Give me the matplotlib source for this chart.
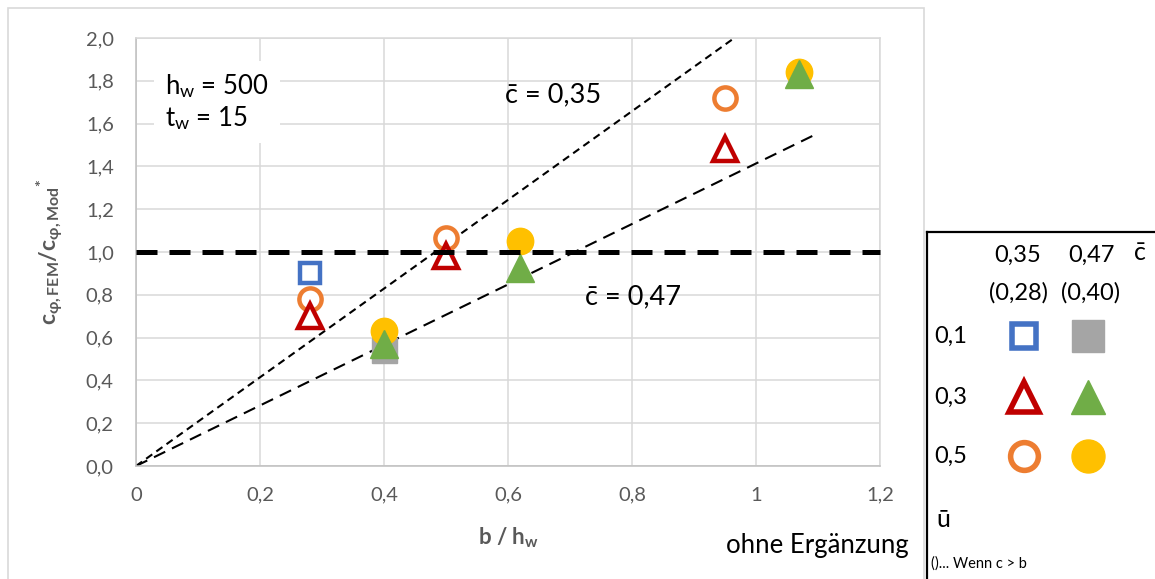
import matplotlib
matplotlib.use('Agg')
import matplotlib.pyplot as plt
from matplotlib.patches import Rectangle

plt.rcParams['font.family'] = ['Lato', 'DejaVu Sans']
plt.rcParams['mathtext.fontset'] = 'custom'
plt.rcParams['mathtext.rm'] = 'Lato'
plt.rcParams['mathtext.bf'] = 'Lato:bold'
plt.rcParams['mathtext.it'] = 'Lato:italic'

W, H = 1155, 579

# b/h_w against c_phi,FEM / c_phi,Mod* for every (u, c) pair
x_u01_c035 = [0.28]
y_u01_c035 = [0.90]
x_u01_c047 = [0.40]
y_u01_c047 = [0.54]
x_u03_c035 = [0.28, 0.50, 0.95]
y_u03_c035 = [0.70, 0.98, 1.48]
x_u03_c047 = [0.40, 0.62, 1.07]
y_u03_c047 = [0.57, 0.925, 1.83]
x_u05_c035 = [0.28, 0.50, 0.95]
y_u05_c035 = [0.78, 1.065, 1.72]
x_u05_c047 = [0.40, 0.62, 1.07]
y_u05_c047 = [0.63, 1.05, 1.84]

# limit lines for c = 0,35 / 0,47 and the reference ratio 1,0
line_c035_x = [0, 0.965]
line_c035_y = [0, 2.0]
line_c047_x = [0, 1.1]
line_c047_y = [0, 1.555]
ref_x = [0, 1.2]
ref_y = [1.0, 1.0]

x_ticks = [0, 0.2, 0.4, 0.6, 0.8, 1.0, 1.2]
x_ticklabels = ['0', '0,2', '0,4', '0,6', '0,8', '1', '1,2']
y_ticks = [0, 0.2, 0.4, 0.6, 0.8, 1.0, 1.2, 1.4, 1.6, 1.8, 2.0]
y_ticklabels = ['0,0', '0,2', '0,4', '0,6', '0,8', '1,0', '1,2', '1,4', '1,6', '1,8', '2,0']

c_labels = ['0,35', '0,47']
c_labels_alt = ['(0,28)', '(0,40)']
u_labels = ['0,1', '0,3', '0,5']

BLUE, GREY, RED, GREEN, ORANGE, YELLOW = '#4472C4', '#A5A5A5', '#C00000', '#70AD47', '#ED7D31', '#FFC000'
TXT = '#595959'
GRID = '#d9d9d9'

# (x, y, marker, colour, open?) -- squares, circles, triangles in drawing order
series = [
    (x_u01_c035, y_u01_c035, 's', BLUE, True),
    (x_u01_c047, y_u01_c047, 's', GREY, False),
    (x_u05_c035, y_u05_c035, 'o', ORANGE, True),
    (x_u05_c047, y_u05_c047, 'o', YELLOW, False),
    (x_u03_c035, y_u03_c035, '^', RED, True),
    (x_u03_c047, y_u03_c047, '^', GREEN, False),
]
sizes_open = {'s': 14, 'o': 16, '^': 17}
sizes_full = {'s': 18, 'o': 19, '^': 20}


def style(marker, color, hollow, scale=1.0):
    if hollow:
        return dict(marker=marker, ms=sizes_open[marker] * scale, mfc='white',
                    mec=color, mew=3.2 * scale, ls='none')
    return dict(marker=marker, ms=sizes_full[marker] * scale, mfc=color,
                mec=color, mew=1, ls='none')


fig = plt.figure(figsize=(W / 100, H / 100), dpi=100)

# outer chart frame
fig.add_artist(Rectangle((8 / W, -0.1), (924 - 8) / W, 0.1 + (H - 8) / H,
                         transform=fig.transFigure, fill=False, ec=GRID, lw=1.2))

ax = fig.add_axes([136 / W, 1 - 466 / H, (880 - 136) / W, (466 - 38) / H])
ax.set_xlim(0, 1.2)
ax.set_ylim(0, 2.0)
ax.set_xticks(x_ticks)
ax.set_xticklabels(x_ticklabels)
ax.set_yticks(y_ticks)
ax.set_yticklabels(y_ticklabels)
ax.tick_params(length=0, labelsize=14.5, labelcolor=TXT)
ax.tick_params(axis='y', pad=16)
ax.tick_params(axis='x', pad=15)
ax.grid(True, color=GRID, lw=1.1)
ax.set_axisbelow(True)
for s in ax.spines.values():
    s.set_color(GRID)
    s.set_linewidth(1.1)
ax.spines['left'].set_color('#bfbfbf')
ax.spines['bottom'].set_color('#bfbfbf')

ax.plot(line_c035_x, line_c035_y, color='black', lw=1.5, dashes=(3.6, 2.4), zorder=2)
ax.plot(line_c047_x, line_c047_y, color='black', lw=1.5, dashes=(6, 3.6), zorder=2)

for xs, ys, m, c, hollow in series:
    ax.plot(xs, ys, zorder=3, clip_on=False, **style(m, c, hollow))

ax.plot(ref_x, ref_y, color='black', lw=3.6, dashes=(4.2, 2.4), zorder=4, clip_on=False)

ax.text(0.595, 1.733, 'c\u0304 = 0,35', fontsize=19.5, va='center', ha='left', zorder=5)
ax.text(0.724, 0.79, 'c\u0304 = 0,47', fontsize=19.5, va='center', ha='left', zorder=5)
ax.text(0.047, 1.70, 'h$_\\mathregular{w}$ = 500\nt$_\\mathregular{w}$ = 15', fontsize=18.5,
        va='center', ha='left', linespacing=1.2, zorder=5,
        bbox=dict(facecolor='white', edgecolor='none', pad=8))

ax.set_xlabel('b / h$_\\mathbf{w}$', fontsize=16, fontweight='bold', color=TXT, labelpad=16)
ax.set_ylabel(r'$\mathbf{c_{\varphi,FEM}/c_{\varphi,Mod}}^{\mathbf{*}}$', fontsize=16.5,
              color=TXT, labelpad=14)


def fx(px):
    return px / W


def fy(py):
    return 1 - py / H


fig.text(fx(726), fy(545), 'ohne Ergänzung', fontsize=18.5, va='center', ha='left')

# legend panel: columns are c, rows are u
leg = fig.add_axes([927 / W, 0, 1 - 927 / W, 1 - 232 / H])
leg.set_xlim(927, W)
leg.set_ylim(H, 232)
leg.set_xticks([])
leg.set_yticks([])
leg.spines['right'].set_visible(False)
leg.spines['bottom'].set_visible(False)
leg.spines['left'].set_linewidth(1.6)
leg.spines['top'].set_linewidth(1.6)

col_x = [1024, 1088]
label_x = [1018, 1091]
row_y = [336, 397, 456]
for j, lab in enumerate(c_labels):
    leg.text(label_x[j], 255, lab, fontsize=17, ha='center', va='center')
    leg.text(label_x[j], 293, c_labels_alt[j], fontsize=17, ha='center', va='center')
leg.text(1140, 253, 'c\u0304', fontsize=18, ha='center', va='center')
for i, lab in enumerate(u_labels):
    leg.text(934, row_y[i], lab, fontsize=17, ha='left', va='center')
leg.text(943, 520, 'ū', fontsize=18, ha='center', va='center')
leg.text(931, 564, '()... Wenn c > b', fontsize=10.5, ha='left', va='center')

legend_cells = [
    (0, 0, 's', BLUE, True), (0, 1, 's', GREY, False),
    (1, 0, '^', RED, True), (1, 1, '^', GREEN, False),
    (2, 0, 'o', ORANGE, True), (2, 1, 'o', YELLOW, False),
]
for i, j, m, c, hollow in legend_cells:
    leg.plot([col_x[j]], [row_y[i]], **style(m, c, hollow, scale=1.25))

fig.savefig('out.png', dpi=100)
